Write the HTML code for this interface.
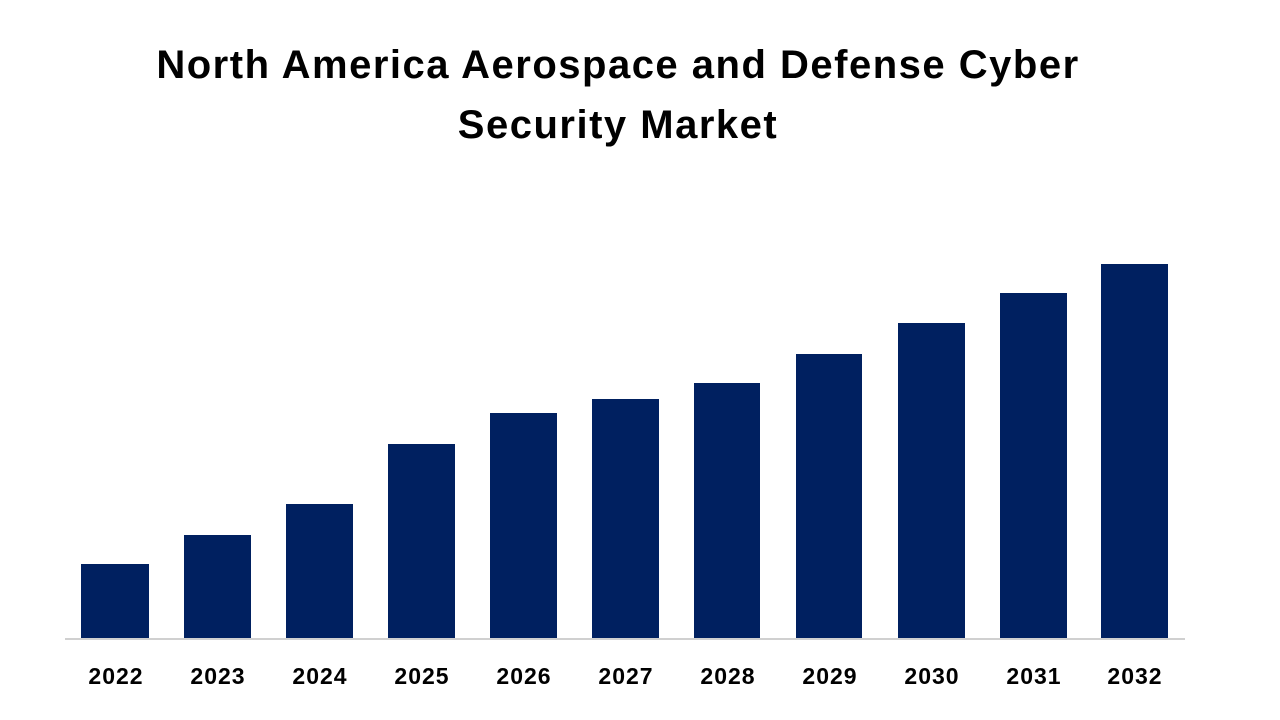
<!DOCTYPE html>
<html><head><meta charset="utf-8"><style>
html,body{margin:0;padding:0;background:#fff;}
body{width:1280px;height:720px;position:relative;overflow:hidden;font-family:"Liberation Sans",sans-serif;}
.t{position:absolute;left:0;width:1236px;text-align:center;font-weight:bold;font-size:40px;letter-spacing:1.5px;color:#000;line-height:60px;}
.b{position:absolute;background:#002060;}
.l{position:absolute;top:663px;width:100px;text-align:center;font-weight:bold;font-size:23px;letter-spacing:1px;color:#000;}
</style></head><body>
<div class="t" style="top:35px">North America Aerospace and Defense Cyber</div>
<div class="t" style="top:95px">Security Market</div>
<div style="position:absolute;left:65px;top:638px;width:1120px;height:2px;background:#d0d0d0"></div>
<div class="b" style="left:81px;top:564px;width:68px;height:74px"></div>
<div class="b" style="left:184px;top:535px;width:67px;height:103px"></div>
<div class="b" style="left:286px;top:504px;width:67px;height:134px"></div>
<div class="b" style="left:388px;top:444px;width:67px;height:194px"></div>
<div class="b" style="left:490px;top:413px;width:67px;height:225px"></div>
<div class="b" style="left:592px;top:399px;width:67px;height:239px"></div>
<div class="b" style="left:694px;top:383px;width:66px;height:255px"></div>
<div class="b" style="left:796px;top:354px;width:66px;height:284px"></div>
<div class="b" style="left:898px;top:323px;width:67px;height:315px"></div>
<div class="b" style="left:1000px;top:293px;width:67px;height:345px"></div>
<div class="b" style="left:1101px;top:264px;width:67px;height:374px"></div>
<div class="l" style="left:66px">2022</div>
<div class="l" style="left:168px">2023</div>
<div class="l" style="left:270px">2024</div>
<div class="l" style="left:372px">2025</div>
<div class="l" style="left:474px">2026</div>
<div class="l" style="left:576px">2027</div>
<div class="l" style="left:678px">2028</div>
<div class="l" style="left:780px">2029</div>
<div class="l" style="left:882px">2030</div>
<div class="l" style="left:984px">2031</div>
<div class="l" style="left:1085px">2032</div>
</body></html>
